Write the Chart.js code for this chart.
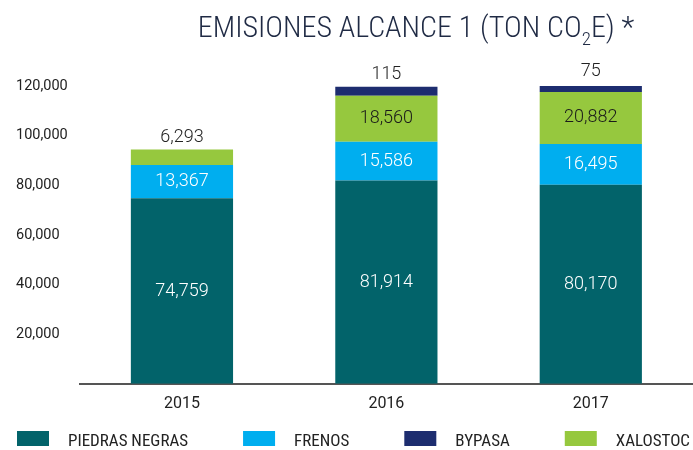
<!DOCTYPE html>
<html>
<head>
<meta charset="utf-8">
<script src="https://cdn.jsdelivr.net/npm/chart.js@4/dist/chart.umd.min.js"></script>
<style>
  html, body { margin: 0; padding: 0; background: #fff; overflow: hidden; }
  #wrap { width: 693px; height: 450px; }
</style>
</head>
<body>
<div id="wrap"><canvas id="emisChart" width="693" height="450"></canvas></div>
<script>
// values
var years = ["2015", "2016", "2017"];
var piedrasNegras = [74759, 81914, 80170];
var frenos = [13367, 15586, 16495];
var xalostoc = [6293, 18560, 20882];
var bypasa = [null, 115, 75];
var yTickValues = [0, 20000, 40000, 60000, 80000, 100000, 120000];

var narrow = "'Liberation Sans Narrow', 'Roboto Condensed', 'DejaVu Sans Condensed', Roboto, sans-serif";

function fmt(v) {
  return v.toLocaleString('en-US');
}

// numbers on / above the bar segments
var segLabels = {
  id: 'segLabels',
  afterDatasetsDraw: function(chart) {
    var ctx = chart.ctx;
    ctx.save();
    ctx.font = '300 18px Roboto';
    ctx.textAlign = 'center';
    ctx.textBaseline = 'middle';
    chart.data.datasets.forEach(function(ds, i) {
      var meta = chart.getDatasetMeta(i);
      meta.data.forEach(function(bar, j) {
        var v = ds.data[j];
        if (v == null) return;
        var top = Math.min(bar.y, bar.base);
        var bottom = Math.max(bar.y, bar.base);
        if (bottom - top < 22) {
          ctx.fillStyle = '#222';
          ctx.fillText(fmt(v), bar.x, top - 12);
        } else {
          ctx.fillStyle = ds.labelColor;
          ctx.fillText(fmt(v), bar.x, (top + bottom) / 2);
        }
      });
    });
    ctx.restore();
  }
};

// title with the subscript 2
var titlePlugin = {
  id: 'titlePlugin',
  afterDraw: function(chart) {
    var ctx = chart.ctx;
    var big = '300 30px ' + narrow;
    var small = '300 19px ' + narrow;
    var a = 'EMISIONES ALCANCE 1 (TON CO', b = '2', c = 'E) *';
    ctx.save();
    ctx.fillStyle = '#1f2a44';
    ctx.textBaseline = 'alphabetic';
    ctx.textAlign = 'left';
    ctx.font = big;
    var wa = ctx.measureText(a).width, wc = ctx.measureText(c).width;
    ctx.font = small;
    var wb = ctx.measureText(b).width;
    var x = 416 - (wa + wb + wc) / 2;
    ctx.font = big;
    ctx.fillText(a, x, 37);
    ctx.font = small;
    ctx.fillText(b, x + wa, 45);
    ctx.font = big;
    ctx.fillText(c, x + wa + wb, 37);
    ctx.restore();
  }
};

// legend spread across the bottom
var legendOrder = [0, 1, 3, 2];
var bottomLegend = {
  id: 'bottomLegend',
  afterDraw: function(chart) {
    var ctx = chart.ctx;
    var boxW = 32, boxH = 15, gap = 19, left = 17, right = 690, y = 431;
    ctx.save();
    ctx.font = '17px ' + narrow;
    ctx.textBaseline = 'alphabetic';
    ctx.textAlign = 'left';
    var items = legendOrder.map(function(i) {
      var ds = chart.data.datasets[i];
      return { ds: ds, w: boxW + gap + ctx.measureText(ds.label).width };
    });
    var total = items.reduce(function(s, it) { return s + it.w; }, 0);
    var space = (right - left - total) / (items.length - 1);
    var x = left;
    items.forEach(function(it) {
      ctx.fillStyle = it.ds.backgroundColor;
      ctx.fillRect(x, y, boxW, boxH);
      ctx.fillStyle = '#222';
      ctx.fillText(it.ds.label, x + boxW + gap, y + boxH - 0.5);
      x += it.w + space;
    });
    ctx.restore();
  }
};

var ctx = document.getElementById("emisChart").getContext("2d");
var emisChart = new Chart(ctx, {
  type: 'bar',
  data: {
    labels: years,
    datasets: [{
      label: 'PIEDRAS NEGRAS',
      data: piedrasNegras,
      backgroundColor: '#02636a',
      labelColor: '#ffffff'
    }, {
      label: 'FRENOS',
      data: frenos,
      backgroundColor: '#00aeef',
      labelColor: '#ffffff'
    }, {
      label: 'XALOSTOC',
      data: xalostoc,
      backgroundColor: '#96c83e',
      labelColor: '#1a1a1a'
    }, {
      label: 'BYPASA',
      data: bypasa,
      backgroundColor: '#1d2d6f',
      labelColor: '#1a1a1a',
      minBarLength: 9
    }]
  },
  options: {
    responsive: false,
    animation: false,
    layout: { padding: { top: 86, left: 16, right: 0, bottom: 25 } },
    datasets: {
      bar: { barPercentage: 0.5, categoryPercentage: 1.0 }
    },
    plugins: {
      legend: { display: false },
      title: { display: false },
      tooltip: { enabled: false }
    },
    scales: {
      x: {
        stacked: true,
        grid: { display: false, drawTicks: false },
        border: { display: true, color: '#555', width: 2 },
        ticks: { color: '#222', font: { family: 'Roboto', size: 16 }, padding: 11 }
      },
      y: {
        stacked: true,
        min: 0,
        max: 120000,
        grid: { display: false, drawTicks: false },
        border: { display: false },
        afterBuildTicks: function(scale) {
          scale.ticks = yTickValues.map(function(v) { return { value: v }; });
        },
        ticks: {
          color: '#222',
          crossAlign: 'far',
          padding: 6,
          font: { family: 'Roboto', size: 14.5 },
          callback: function(v) { return v === 0 ? '' : fmt(v); }
        }
      }
    }
  },
  plugins: [segLabels, titlePlugin, bottomLegend]
});
</script>
</body>
</html>
